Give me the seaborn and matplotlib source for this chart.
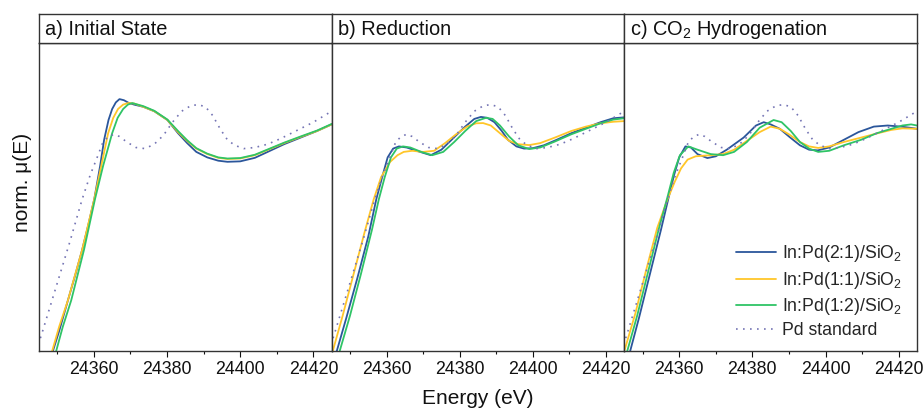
import matplotlib
matplotlib.use("Agg")
import matplotlib.pyplot as plt
from matplotlib.ticker import MultipleLocator
import numpy as np
import pandas as pd
import seaborn as sns

# ---- Pd K-edge XANES, normalised absorption ----
# Pd foil reference (same in every panel)
pd_std_e = [24344.5, 24345.5, 24348.0, 24350.2, 24353.5, 24356.8, 24359.0, 24360.9, 24362.5,
            24364.0, 24365.5, 24367.0, 24369.0, 24371.5, 24374.0, 24376.5, 24379.0, 24381.5,
            24384.0, 24386.5, 24388.5, 24390.5, 24392.5, 24394.5, 24396.5, 24398.5, 24401.0,
            24404.0, 24407.5, 24411.0, 24414.0, 24417.0, 24420.0, 24423.0, 24425.0]
pd_std_mu = [0.03, 0.064, 0.20, 0.32, 0.50, 0.69, 0.80, 0.88, 0.95,
             0.975, 0.985, 0.975, 0.95, 0.925, 0.92, 0.94, 0.98, 1.04,
             1.09, 1.115, 1.12, 1.11, 1.07, 1.01, 0.96, 0.935, 0.92,
             0.925, 0.94, 0.965, 0.99, 1.015, 1.04, 1.07, 1.09]

# a) Initial state
a_21_e = [24348.0, 24348.8, 24350.5, 24352.9, 24354.9, 24356.8, 24358.5, 24360.1, 24361.7, 24362.8,
          24364.0, 24365.0, 24366.0, 24367.0, 24368.2, 24369.5, 24371.0, 24373.5, 24376.5, 24380.1,
          24383.0, 24385.5, 24388.0, 24391.0, 24394.0, 24396.5, 24400.0, 24404.0, 24407.5, 24412.0,
          24416.5, 24421.0, 24425.0]
a_21_mu = [-0.04, 0.0, 0.09, 0.23, 0.345, 0.46, 0.575, 0.69, 0.84, 0.96,
           1.05, 1.10, 1.13, 1.145, 1.14, 1.128, 1.12, 1.11, 1.09, 1.05,
           0.99, 0.945, 0.905, 0.88, 0.865, 0.86, 0.862, 0.878, 0.905, 0.94,
           0.97, 1.0, 1.03]
a_11_e = [24347.8, 24348.6, 24350.5, 24352.9, 24356.8, 24360.1, 24362.0, 24363.9, 24365.3, 24366.6,
          24368.0, 24369.4, 24371.0, 24373.5, 24376.5, 24380.1, 24383.0, 24385.5, 24388.0, 24391.0,
          24394.0, 24396.5, 24400.0, 24404.0, 24407.5, 24412.0, 24416.5, 24421.0, 24425.0]
a_11_mu = [-0.04, 0.0, 0.11, 0.23, 0.46, 0.69, 0.84, 0.99, 1.06, 1.10,
           1.12, 1.127, 1.125, 1.11, 1.09, 1.05, 0.995, 0.955, 0.92, 0.895,
           0.878, 0.873, 0.875, 0.89, 0.914, 0.945, 0.973, 1.0, 1.03]
a_12_e = [24349.0, 24349.7, 24351.5, 24353.8, 24357.3, 24360.3, 24362.5, 24365.0, 24366.5, 24368.0,
          24369.3, 24370.5, 24372.0, 24373.5, 24376.5, 24380.1, 24383.0, 24385.5, 24388.0, 24391.0,
          24394.0, 24396.5, 24400.0, 24404.0, 24407.5, 24412.0, 24416.5, 24421.0, 24425.0]
a_12_mu = [-0.04, 0.0, 0.11, 0.23, 0.46, 0.69, 0.84, 0.99, 1.06, 1.10,
           1.12, 1.127, 1.12, 1.113, 1.092, 1.052, 1.0, 0.958, 0.922, 0.897,
           0.88, 0.875, 0.877, 0.892, 0.916, 0.947, 0.975, 1.002, 1.032]

# b) Reduction
b_21_e = [24345.5, 24346.4, 24349.0, 24352.0, 24355.0, 24357.2, 24358.8, 24360.3, 24361.8, 24363.4,
          24365.5, 24368.6, 24372.1, 24375.0, 24378.4, 24381.5, 24384.0, 24385.8, 24387.5, 24389.5,
          24391.5, 24393.2, 24395.5, 24397.6, 24400.0, 24403.0, 24406.5, 24410.5, 24414.5, 24418.5,
          24422.0, 24425.0]
b_21_mu = [-0.03, 0.0, 0.15, 0.33, 0.52, 0.69, 0.79, 0.88, 0.92, 0.93,
           0.925, 0.908, 0.89, 0.915, 0.97, 1.02, 1.055, 1.064, 1.06, 1.04,
           1.0, 0.96, 0.93, 0.92, 0.922, 0.935, 0.96, 0.99, 1.015, 1.04,
           1.058, 1.062]
b_11_e = [24344.8, 24345.3, 24348.0, 24351.0, 24354.0, 24356.5, 24358.5, 24361.0, 24363.0, 24364.7,
          24367.0, 24370.0, 24373.0, 24376.0, 24379.0, 24382.0, 24384.5, 24386.4, 24388.5, 24391.0,
          24393.5, 24396.0, 24399.0, 24402.0, 24406.0, 24410.5, 24414.5, 24418.5, 24422.0, 24425.0]
b_11_mu = [-0.03, 0.0, 0.16, 0.35, 0.54, 0.69, 0.79, 0.86, 0.89, 0.905,
           0.91, 0.905, 0.91, 0.945, 0.985, 1.02, 1.035, 1.036, 1.025, 0.99,
           0.955, 0.94, 0.936, 0.945, 0.97, 1.0, 1.02, 1.035, 1.042, 1.045]
b_12_e = [24346.7, 24347.2, 24350.0, 24353.0, 24356.0, 24357.9, 24359.5, 24361.2, 24362.8, 24364.5,
          24366.5, 24369.5, 24372.5, 24375.5, 24378.5, 24381.5, 24384.5, 24387.2, 24389.0, 24391.0,
          24393.5, 24396.0, 24399.0, 24402.0, 24406.0, 24410.5, 24414.5, 24418.5, 24422.0, 24425.0]
b_12_mu = [-0.03, 0.0, 0.16, 0.35, 0.55, 0.69, 0.79, 0.88, 0.92, 0.93,
           0.925, 0.905, 0.89, 0.905, 0.95, 1.0, 1.045, 1.06, 1.055, 1.025,
           0.975, 0.935, 0.918, 0.925, 0.952, 0.985, 1.01, 1.035, 1.052, 1.058]

# c) CO2 hydrogenation
c_21_e = [24346.1, 24346.6, 24349.0, 24352.0, 24355.0, 24357.0, 24358.6, 24360.0, 24361.7, 24363.2,
          24365.0, 24367.7, 24370.0, 24373.0, 24377.6, 24381.0, 24383.1, 24385.0, 24387.5, 24390.0,
          24393.0, 24395.5, 24397.9, 24401.0, 24405.0, 24409.0, 24413.2, 24417.0, 24420.6, 24423.0,
          24425.0]
c_21_mu = [-0.03, 0.0, 0.15, 0.35, 0.55, 0.69, 0.80, 0.88, 0.93, 0.925,
           0.895, 0.877, 0.885, 0.915, 0.97, 1.025, 1.04, 1.03, 1.01, 0.975,
           0.935, 0.915, 0.912, 0.925, 0.96, 0.995, 1.02, 1.025, 1.02, 1.015,
           1.01]
c_11_e = [24344.6, 24345.0, 24348.0, 24351.0, 24354.0, 24356.8, 24358.8, 24360.5, 24362.3, 24364.5,
          24368.6, 24372.0, 24375.0, 24378.5, 24382.0, 24385.0, 24387.5, 24390.0, 24393.0, 24395.5,
          24398.0, 24401.0, 24405.0, 24409.7, 24414.3, 24418.0, 24421.0, 24425.0]
c_11_mu = [-0.03, 0.0, 0.17, 0.37, 0.56, 0.69, 0.77, 0.83, 0.87, 0.885,
           0.89, 0.895, 0.915, 0.955, 0.995, 1.02, 1.01, 0.985, 0.95, 0.93,
           0.923, 0.93, 0.95, 0.97, 0.99, 1.005, 1.012, 1.01]
c_12_e = [24345.3, 24345.8, 24348.5, 24351.5, 24354.5, 24356.8, 24358.5, 24360.2, 24362.5, 24365.0,
          24368.6, 24372.0, 24375.0, 24378.5, 24382.0, 24385.8, 24388.0, 24390.5, 24393.0, 24395.5,
          24398.0, 24401.0, 24405.0, 24409.7, 24414.0, 24418.0, 24421.0, 24423.4, 24425.0]
c_12_mu = [-0.03, 0.0, 0.16, 0.36, 0.56, 0.70, 0.81, 0.89, 0.93, 0.915,
           0.895, 0.89, 0.905, 0.95, 1.015, 1.05, 1.04, 1.0, 0.95, 0.92,
           0.905, 0.91, 0.935, 0.96, 0.99, 1.01, 1.025, 1.03, 1.025]

panel_titles = ["a) Initial State", "b) Reduction", "c) CO$\\mathregular{_2}$ Hydrogenation"]
sample_labels = ["In:Pd(2:1)/SiO$\\mathregular{_2}$", "In:Pd(1:1)/SiO$\\mathregular{_2}$",
                 "In:Pd(1:2)/SiO$\\mathregular{_2}$"]
std_label = "Pd standard"
x_ticks = [24360, 24380, 24400, 24420]

panels = [
    [(a_21_e, a_21_mu), (a_11_e, a_11_mu), (a_12_e, a_12_mu)],
    [(b_21_e, b_21_mu), (b_11_e, b_11_mu), (b_12_e, b_12_mu)],
    [(c_21_e, c_21_mu), (c_11_e, c_11_mu), (c_12_e, c_12_mu)],
]

colors = ["#2b569b", "#ffc629", "#2fc466"]
std_color = "#7474b4"

sns.set_theme(style="white")
plt.rcParams["font.family"] = ["Liberation Sans", "DejaVu Sans"]
plt.rcParams["mathtext.fontset"] = "custom"
plt.rcParams["mathtext.rm"] = "Liberation Sans"
plt.rcParams["mathtext.it"] = "Liberation Sans:italic"

W, H = 923, 408
fig = plt.figure(figsize=(W / 100, H / 100), dpi=100)

x0, x_end = 39, 917
pw = (x_end - x0) / 3
plot_top, plot_bot, head_top = 43, 351, 14
edge = "#333333"

for i, (series, title) in enumerate(zip(panels, panel_titles)):
    left = (x0 + i * pw) / W
    ax = fig.add_axes([left, (H - plot_bot) / H, pw / W, (plot_bot - plot_top) / H])
    for (e, mu), col, lab in zip(series, colors, sample_labels):
        df = pd.DataFrame({"E": e, "mu": mu})
        sns.lineplot(data=df, x="E", y="mu", ax=ax, color=col, lw=1.3,
                     sort=False, estimator=None, label=lab, legend=False)
    dfs = pd.DataFrame({"E": pd_std_e, "mu": pd_std_mu})
    sns.lineplot(data=dfs, x="E", y="mu", ax=ax, color=std_color, lw=1.2,
                 linestyle=(0, (1, 3.2)), sort=False, estimator=None,
                 label=std_label, legend=False)
    ax.set_xlim(24345, 24425)
    ax.set_ylim(0, 1.4)
    ax.set_xticks(x_ticks)
    ax.xaxis.set_minor_locator(MultipleLocator(10))
    ax.set_yticks([])
    ax.set_xlabel("")
    ax.set_ylabel("")
    ax.tick_params(axis="x", which="major", direction="out", length=4.5, width=0.8,
                   labelsize=12.8, pad=2.5, colors="#111111", bottom=True)
    ax.tick_params(axis="x", which="minor", direction="out", length=2.3, width=0.8,
                   colors="#111111", bottom=True)
    for sp in ax.spines.values():
        sp.set_color(edge)
        sp.set_linewidth(1.0)

    # header strip with panel title
    hax = fig.add_axes([left, (H - plot_top) / H, pw / W, (plot_top - head_top) / H])
    hax.set_xticks([])
    hax.set_yticks([])
    for sp in hax.spines.values():
        sp.set_color(edge)
        sp.set_linewidth(1.0)
    hax.text(6 / pw, 0.47, title, transform=hax.transAxes, fontsize=14.4,
             ha="left", va="center", color="#111111")

    if i == 2:
        ax.legend(loc="lower right", bbox_to_anchor=(0.972, 0.015), frameon=False,
                  fontsize=12.7, handlelength=2.3, handletextpad=0.3,
                  labelspacing=0.3, borderaxespad=0.0)

fig.text(478 / W, (H - 398) / H, "Energy (eV)", ha="center", va="center",
         fontsize=15, color="#111111")
fig.text(23 / W, (H - 182) / H, "norm. \u03bc(E)", ha="center", va="center",
         rotation=90, fontsize=15, color="#111111")

fig.savefig("out.png", dpi=100)
